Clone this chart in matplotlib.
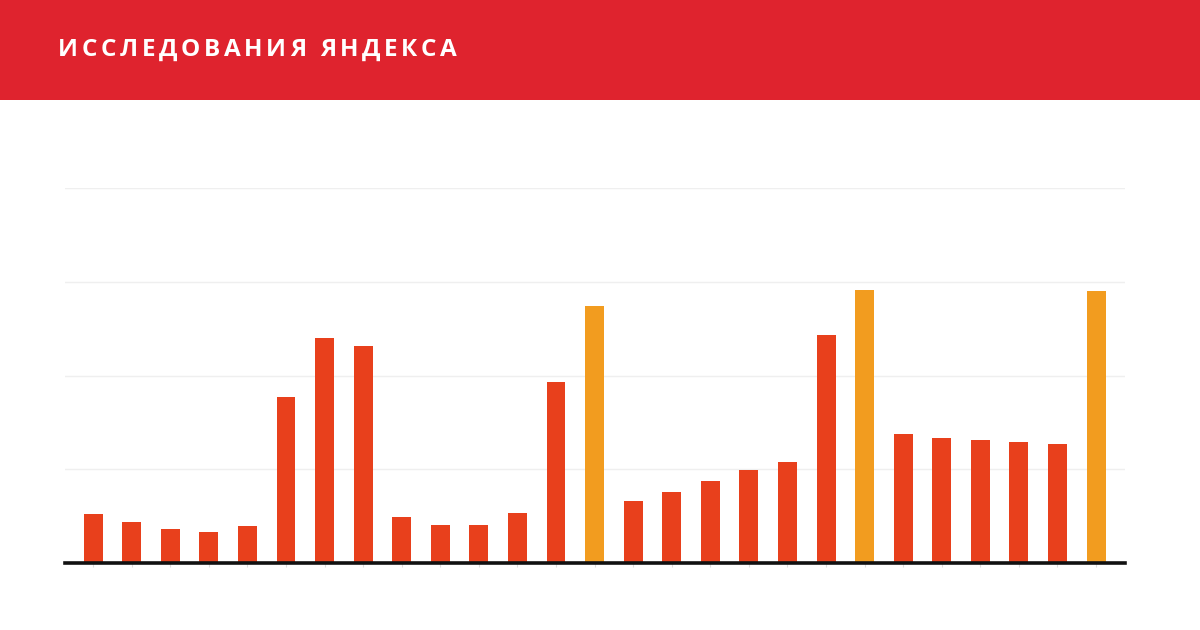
import matplotlib.pyplot as plt
from matplotlib.patches import Rectangle

TITLE = "ИССЛЕДОВАНИЯ ЯНДЕКСА"

# bar heights, one per period (grid step = 1)
values = [0.52, 0.44, 0.36, 0.33, 0.39, 1.77, 2.40, 2.31, 0.49, 0.41, 0.41, 0.53, 1.93, 2.74,
          0.66, 0.76, 0.87, 0.99, 1.08, 2.43, 2.91, 1.38, 1.33, 1.31, 1.29, 1.27, 2.90]
# periods highlighted in orange
highlight = [13, 20, 26]

RED = "#E8401C"
ORANGE = "#F29C1F"
HEADER = "#DF232E"

W, H = 1200, 630
fig = plt.figure(figsize=(W / 100, H / 100), dpi=100)
fig.patch.set_facecolor("white")

# header band
fig.patches.append(Rectangle((0, 1 - 100 / H), 1, 100 / H, transform=fig.transFigure,
                             facecolor=HEADER, edgecolor="none", zorder=0))

# title with letter spacing, drawn glyph by glyph on a shared baseline
renderer = fig.canvas.get_renderer()
title_kw = dict(color="white", fontsize=17.5, fontfamily="Open Sans", fontweight="bold",
                ha="left", va="baseline")
space_w = 7.0
glyphs = []
for ch in TITLE:
    t = fig.text(0, 1 - 56 / H, ch, **title_kw)
    w = space_w if ch == " " else t.get_window_extent(renderer).width
    glyphs.append((t, w))
x0, x1 = 58, 457
tracking = (x1 - x0 - sum(w for _, w in glyphs)) / (len(glyphs) - 1)
x_px = x0
for t, w in glyphs:
    t.set_x(x_px / W)
    x_px += w + tracking

ax = fig.add_axes([65 / W, 1 - 563 / H, (1125 - 65) / W, (563 - 188) / H])
xs = list(range(len(values)))
colors = [ORANGE if i in highlight else RED for i in xs]
ax.bar(xs, values, width=0.49, color=colors, zorder=3)

ax.set_xlim(-0.73, 26.75)
ax.set_ylim(0, 4)
ax.set_yticks([1, 2, 3, 4])
ax.yaxis.grid(True, color="#EFEFEF", linewidth=1, zorder=0)
ax.tick_params(axis="y", left=False, labelleft=False)
ax.set_xticks(xs)
ax.tick_params(axis="x", length=3, width=0.8, color="#DDDDDD", labelbottom=False)
for s in ["top", "right", "left"]:
    ax.spines[s].set_visible(False)
ax.spines["bottom"].set_linewidth(2.6)
ax.spines["bottom"].set_color("#111111")
ax.spines["bottom"].set_zorder(4)

fig.savefig("out.png", dpi=100)
